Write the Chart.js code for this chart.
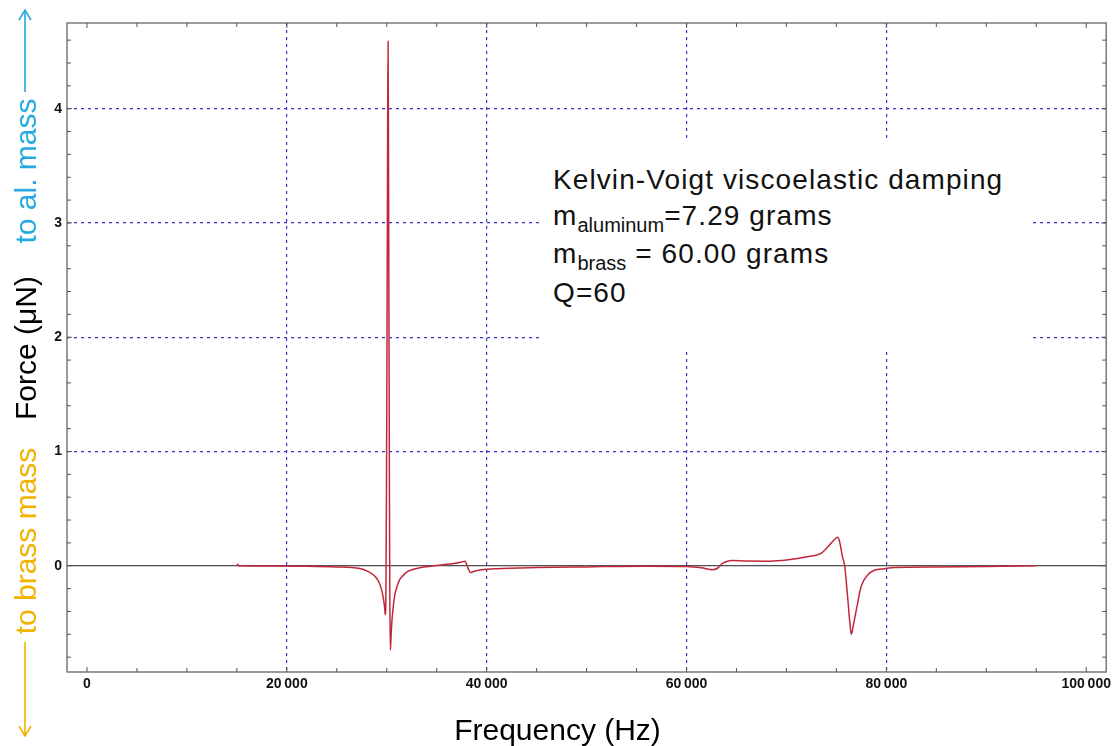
<!DOCTYPE html>
<html>
<head>
<meta charset="utf-8">
<script src="https://cdn.jsdelivr.net/npm/chart.js@4"></script>
<style>
  html, body { margin: 0; padding: 0; background: #fff; }
  #wrap { position: relative; width: 1115px; height: 746px; }
  #nota {
    position: absolute; left: 540px; top: 140px; width: 477px; height: 188px;
    padding: 22px 0 0 13px; background: #fff;
    font-family: Arial, "Liberation Sans", sans-serif; font-size: 28px; line-height: 35.5px;
    letter-spacing: 1.1px; color: #111;
  }
  #nota .sub { font-size: 20px; position: relative; top: 7px; letter-spacing: 0; }
</style>
</head>
<body>
<div id="wrap">
  <canvas id="grafico" width="1115" height="746"></canvas>
  <div id="nota">
    Kelvin-Voigt viscoelastic damping<br>
    m<span class="sub">aluminum</span>=7.29 grams<br>
    m<span class="sub">brass</span> = 60.00 grams<br>
    Q=60
  </div>
</div>
<script>
// resposta em frequencia (Hz) -> forca (uN)
const freqHz = [
  15000, 15080, 15200, 18000, 22000, 25000, 26500, 27300, 28000, 28500,
  28900, 29200, 29450, 29650, 29780, 29860, 29920, 29980, 30040, 30090,
  30130, 30170, 30220, 30270, 30310, 30360, 30430, 30520, 30650, 30800,
  31000, 31300, 31700, 32100, 33100, 34000, 35000, 36000, 37000, 37500,
  37780, 37950, 38150, 38380, 38700, 39500, 41000, 45000, 50000, 56000,
  60000, 61500, 62600, 63100, 63600, 64100, 64600, 66000, 68000, 70200,
  72200, 73500, 74500, 75000, 75150, 75350, 75600, 75830, 76100, 76350,
  76490, 76700, 77000, 77480, 78140, 78800, 79800, 80800, 85000, 90000,
  95000
];
const forceUN = [
  0, 0.012, 0, -0.002, -0.005, -0.01, -0.015, -0.025, -0.045, -0.07,
  -0.1, -0.14, -0.2, -0.28, -0.36, -0.43, -0.2, 0.8, 2.4, 3.8,
  4.59, 3.8, 2.2, 0.6, -0.3, -0.74, -0.62, -0.48, -0.36, -0.26,
  -0.19, -0.12, -0.08, -0.05, -0.022, -0.008, 0.003, 0.012, 0.024, 0.033,
  0.04, 0.022, -0.025, -0.06, -0.05, -0.036, -0.026, -0.016, -0.01, -0.004,
  -0.006, -0.018, -0.035, -0.022, 0.02, 0.04, 0.046, 0.041, 0.04, 0.053,
  0.08, 0.11, 0.2, 0.245, 0.25, 0.2, 0.08, 0, -0.25, -0.5,
  -0.6, -0.52, -0.385, -0.18, -0.08, -0.04, -0.026, -0.015, -0.01, -0.006,
  0
];

const xLimites = [-2000, 102000];
const yLimites = [-0.93, 4.75];
const xMaiores = [0, 20000, 40000, 60000, 80000, 100000];
const xPasso = 5000;
const yMaiores = [0, 1, 2, 3, 4];
const yPasso = 0.2;

const corCurva = '#c0283a';
const corGrade = '#3636cc';
const corCiano = '#25a9e0';
const corOuro = '#f2b200';

function gerarTicks(min, max, passo) {
  const lista = [];
  for (let v = Math.ceil(min / passo) * passo; v <= max + 1e-9; v += passo) {
    lista.push({ value: Math.round(v * 1000) / 1000 });
  }
  return lista;
}

function corDaGrade(maiores, ignorar) {
  return (ctx) => {
    const v = ctx.tick ? ctx.tick.value : null;
    if (maiores.includes(v) && !ignorar.includes(v)) return corGrade;
    return 'rgba(0,0,0,0)';
  };
}

function rotulo(maiores) {
  return function(value) {
    if (!maiores.includes(value)) return '';
    return value >= 10000 ? value.toLocaleString('en-US').replace(',', '\u2009') : String(value);
  };
}

// moldura, marcas internas e titulos
const molduraPlugin = {
  id: 'moldura',
  afterDraw(chart) {
    const c = chart.ctx;
    const a = chart.chartArea;
    const sx = chart.scales.x, sy = chart.scales.y;
    c.save();
    c.strokeStyle = '#666';
    c.lineWidth = 1.3;
    c.strokeRect(a.left, a.top, a.right - a.left, a.bottom - a.top);

    c.lineWidth = 1;
    c.strokeStyle = '#555';
    c.beginPath();
    sx.ticks.forEach(t => {
      const px = sx.getPixelForValue(t.value);
      const len = xMaiores.includes(t.value) ? 5 : 4;
      c.moveTo(px, a.bottom); c.lineTo(px, a.bottom - len);
      c.moveTo(px, a.top); c.lineTo(px, a.top + len);
    });
    sy.ticks.forEach(t => {
      const py = sy.getPixelForValue(t.value);
      const len = yMaiores.includes(t.value) ? 5 : 4;
      c.moveTo(a.left, py); c.lineTo(a.left + len, py);
      c.moveTo(a.right, py); c.lineTo(a.right - len, py);
    });
    c.stroke();

    // titulo do eixo x
    c.fillStyle = '#000';
    c.font = '30px Arial, "Liberation Sans", sans-serif';
    c.textAlign = 'center';
    c.textBaseline = 'alphabetic';
    c.fillText('Frequency (Hz)', chart.width / 2, 740);

    // titulo do eixo y em tres partes
    const partes = [
      { texto: 'to al. mass', cor: corCiano, centro: 171 },
      { texto: 'Force (\u03bcN)', cor: '#000', centro: 348 },
      { texto: 'to brass mass', cor: corOuro, centro: 541 }
    ];
    partes.forEach(p => {
      c.save();
      c.translate(36, p.centro);
      c.rotate(-Math.PI / 2);
      c.fillStyle = p.cor;
      c.fillText(p.texto, 0, 0);
      c.restore();
    });

    seta(c, 25, 92, 10, corCiano);
    seta(c, 25, 642, 736, corOuro);
    c.restore();
  }
};

function seta(c, x, y0, y1, cor) {
  const dir = y1 > y0 ? 1 : -1;
  c.strokeStyle = cor;
  c.lineWidth = 1.6;
  c.beginPath();
  c.moveTo(x, y0); c.lineTo(x, y1);
  c.moveTo(x - 6, y1 - dir * 10); c.lineTo(x, y1); c.lineTo(x + 6, y1 - dir * 10);
  c.stroke();
}

const pontos = freqHz.map((f, i) => ({ x: f, y: forceUN[i] }));

new Chart(document.getElementById('grafico').getContext('2d'), {
  type: 'line',
  data: {
    datasets: [
      {
        label: 'Force',
        data: pontos,
        borderColor: corCurva,
        borderWidth: 1.5,
        pointRadius: 0,
        fill: false,
        cubicInterpolationMode: 'monotone',
        order: 0
      },
      {
        label: 'zero',
        data: [{ x: xLimites[0], y: 0 }, { x: xLimites[1], y: 0 }],
        borderColor: '#222',
        borderWidth: 1,
        pointRadius: 0,
        fill: false,
        order: 1
      }
    ]
  },
  options: {
    responsive: false,
    animation: false,
    devicePixelRatio: 1,
    layout: { padding: { top: 23, right: 2, left: 0, bottom: 0 } },
    plugins: { legend: { display: false }, tooltip: { enabled: false } },
    scales: {
      x: {
        type: 'linear',
        min: xLimites[0],
        max: xLimites[1],
        afterBuildTicks: (s) => { s.ticks = gerarTicks(0, 100000, xPasso); },
        afterFit: (s) => { s.height = 74; },
        border: { display: false, dash: [3, 4] },
        grid: { color: corDaGrade(xMaiores, [0, 100000]), lineWidth: 1.2, drawTicks: false },
        ticks: {
          autoSkip: false,
          maxRotation: 0,
          padding: 4,
          color: '#111',
          font: { family: 'Arial', size: 14, weight: 'bold' },
          callback: rotulo(xMaiores)
        }
      },
      y: {
        type: 'linear',
        min: yLimites[0],
        max: yLimites[1],
        afterBuildTicks: (s) => { s.ticks = gerarTicks(-0.8, 4.6, yPasso); },
        afterFit: (s) => { s.width = 67; },
        border: { display: false, dash: [3, 4] },
        grid: { color: corDaGrade(yMaiores, [0]), lineWidth: 1.2, drawTicks: false },
        ticks: {
          autoSkip: false,
          padding: 5,
          color: '#111',
          font: { family: 'Arial', size: 14, weight: 'bold' },
          callback: rotulo(yMaiores)
        }
      }
    }
  },
  plugins: [molduraPlugin]
});
</script>
</body>
</html>
